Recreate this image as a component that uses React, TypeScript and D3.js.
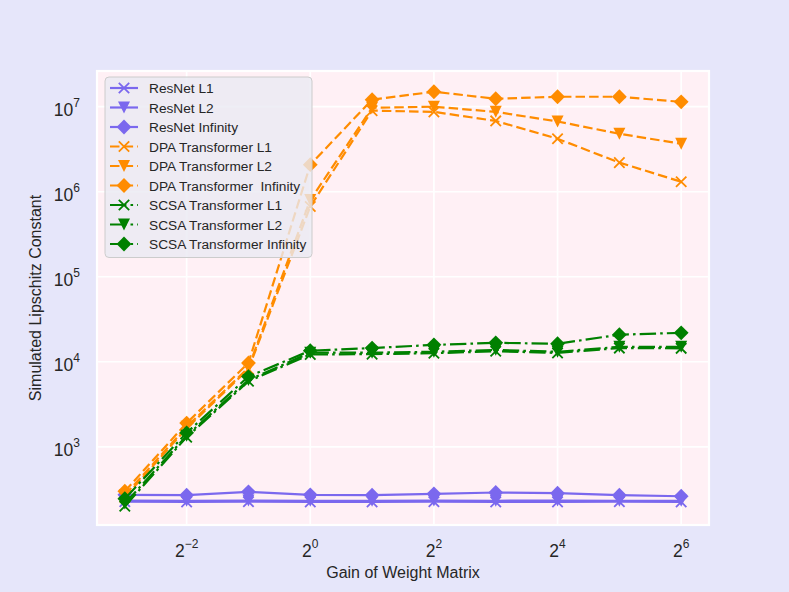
import React from 'react';
import * as d3 from 'd3';

const W = 789;
const H = 592;
const margin = { left: 97, right: 80, top: 71, bottom: 67 };

// gain exponents (x = 2^e)
const exps = [-3, -2, -1, 0, 1, 2, 3, 4, 5, 6];
const xTickExps = [-2, 0, 2, 4, 6];
const yTickExps = [3, 4, 5, 6, 7];

const resnetL1 = [226, 225, 226, 225, 225, 226, 225, 225, 226, 225];
const resnetL2 = [233, 232, 233, 232, 232, 233, 232, 233, 232, 232];
const resnetInf = [272, 270, 295, 272, 270, 280, 290, 285, 270, 262];
const dpaL1 = [255, 1650, 8200, 6.7e5, 9.0e6, 8.7e6, 6.8e6, 4.2e6, 2.2e6, 1.31e6];
const dpaL2 = [270, 1720, 8500, 8.0e5, 9.7e6, 1.0e7, 8.7e6, 6.7e6, 4.8e6, 3.67e6];
const dpaInf = [300, 1900, 9700, 2.08e6, 1.21e7, 1.5e7, 1.24e7, 1.31e7, 1.31e7, 1.14e7];
const scsaL1 = [200, 1300, 5900, 12200, 12300, 12600, 13300, 12700, 14500, 14400];
const scsaL2 = [215, 1350, 6100, 12800, 12800, 13100, 13800, 13100, 15000, 15000];
const scsaInf = [245, 1460, 6700, 13500, 14500, 15800, 16700, 16300, 20800, 21900];

const series = [
  { name: 'ResNet L1', values: resnetL1, color: '#7b68ee', dash: '', marker: 'x' },
  { name: 'ResNet L2', values: resnetL2, color: '#7b68ee', dash: '', marker: 'v' },
  { name: 'ResNet Infinity', values: resnetInf, color: '#7b68ee', dash: '', marker: 'D' },
  { name: 'DPA Transformer L1', values: dpaL1, color: '#ff8c00', dash: '9.5,4.1', marker: 'x' },
  { name: 'DPA Transformer L2', values: dpaL2, color: '#ff8c00', dash: '9.5,4.1', marker: 'v' },
  { name: 'DPA Transformer  Infinity', values: dpaInf, color: '#ff8c00', dash: '9.5,4.1', marker: 'D' },
  { name: 'SCSA Transformer L1', values: scsaL1, color: '#008000', dash: '16.4,4.1,2.6,4.1', marker: 'x' },
  { name: 'SCSA Transformer L2', values: scsaL2, color: '#008000', dash: '16.4,4.1,2.6,4.1', marker: 'v' },
  { name: 'SCSA Transformer Infinity', values: scsaInf, color: '#008000', dash: '16.4,4.1,2.6,4.1', marker: 'D' },
];

const x = d3.scaleLog().base(2)
  .domain([Math.pow(2, -3.45), Math.pow(2, 6.45)])
  .range([margin.left, W - margin.right]);
const y = d3.scaleLog()
  .domain([Math.pow(10, 2.08), Math.pow(10, 7.42)])
  .range([H - margin.bottom, margin.top]);

const line = d3.line<number>()
  .x((d, i) => x(Math.pow(2, exps[i])))
  .y(d => y(d));

function Marker({ type, cx, cy, color }: { type: string; cx: number; cy: number; color: string }) {
  if (type === 'x') {
    const s = 5.2;
    return <path d={`M${cx - s},${cy - s}L${cx + s},${cy + s}M${cx - s},${cy + s}L${cx + s},${cy - s}`}
      stroke={color} strokeWidth={1.8} fill="none" />;
  }
  if (type === 'v') {
    const s = 6;
    return <path d={`M${cx - s},${cy - s}L${cx + s},${cy - s}L${cx},${cy + s}Z`} fill={color} />;
  }
  const s = 7.4;
  return <path d={`M${cx},${cy - s}L${cx + s},${cy}L${cx},${cy + s}L${cx - s},${cy}Z`} fill={color} />;
}

const font = '"Liberation Sans", Arial, sans-serif';
const textColor = '#262626';

export default function App() {
  const [x0, x1] = x.range();
  const [y0, y1] = y.range();
  const legX = 105, legY = 77, legW = 207, rowH = 19.5;

  return (
    <svg width={W} height={H} style={{ position: 'absolute', left: 0, top: 0 }} fontFamily={font}>
      <rect width={W} height={H} fill="#e6e6fa" />
      <rect x={x0} y={y1} width={x1 - x0} height={y0 - y1} fill="#fff0f5" />
      {/* grid */}
      {xTickExps.map(e => (
        <line key={'gx' + e} x1={x(Math.pow(2, e))} x2={x(Math.pow(2, e))} y1={y1} y2={y0}
          stroke="#fff" strokeWidth={1.7} />
      ))}
      {yTickExps.map(e => (
        <line key={'gy' + e} x1={x0} x2={x1} y1={y(Math.pow(10, e))} y2={y(Math.pow(10, e))}
          stroke="#fff" strokeWidth={1.7} />
      ))}
      <rect x={x0} y={y1} width={x1 - x0} height={y0 - y1} fill="none" stroke="#fff" strokeWidth={2.2} />

      {/* series */}
      {series.map(s => (
        <g key={s.name}>
          <path d={line(s.values) || ''} fill="none" stroke={s.color} strokeWidth={2.2}
            strokeDasharray={s.dash || undefined} />
          {s.values.map((v, i) => (
            <Marker key={i} type={s.marker} cx={x(Math.pow(2, exps[i]))} cy={y(v)} color={s.color} />
          ))}
        </g>
      ))}

      {/* x tick labels */}
      {xTickExps.map(e => (
        <text key={'tx' + e} x={x(Math.pow(2, e))} y={557} textAnchor="middle" fontSize={17.5} fill={textColor}>
          <tspan>2</tspan>
          <tspan dy={-9} fontSize={12}>{e < 0 ? '\u2212' + Math.abs(e) : String(e)}</tspan>
        </text>
      ))}
      {/* y tick labels */}
      {yTickExps.map(e => (
        <text key={'ty' + e} x={80} y={y(Math.pow(10, e)) + 9} textAnchor="end" fontSize={17.5} fill={textColor}>
          <tspan>10</tspan>
          <tspan dy={-9} fontSize={12}>{String(e)}</tspan>
        </text>
      ))}

      <text x={(x0 + x1) / 2} y={578} textAnchor="middle" fontSize={16} fill={textColor}>Gain of Weight Matrix</text>
      <text transform={`translate(41,${(y0 + y1) / 2}) rotate(-90)`} textAnchor="middle" fontSize={16} fill={textColor}>
        Simulated Lipschitz Constant
      </text>

      {/* legend */}
      <rect x={legX} y={legY} width={legW} height={rowH * 9 + 5} rx={4}
        fill="#eaeaf2" fillOpacity={0.8} stroke="#cccccc" strokeWidth={1} />
      {series.map((s, i) => {
        const cy = legY + 11 + i * rowH;
        return (
          <g key={'leg' + s.name}>
            <line x1={110} x2={138} y1={cy} y2={cy} stroke={s.color} strokeWidth={2.2}
              strokeDasharray={s.dash || undefined} />
            <Marker type={s.marker} cx={124} cy={cy} color={s.color} />
            <text x={149} y={cy + 5} fontSize={13.7} fill={textColor} style={{ whiteSpace: 'pre' }}>{s.name}</text>
          </g>
        );
      })}
    </svg>
  );
}
